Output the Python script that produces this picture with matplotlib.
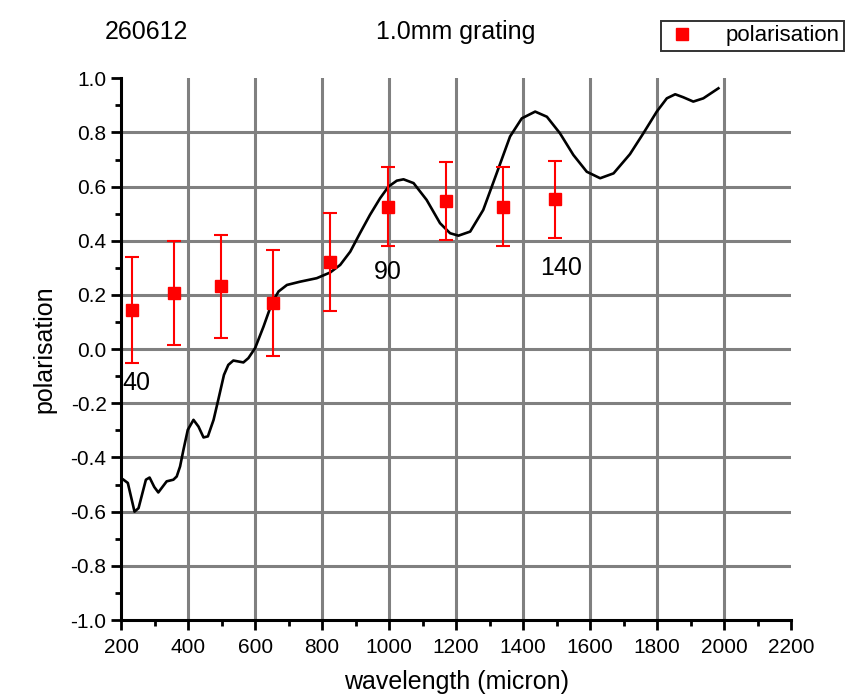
import matplotlib.pyplot as plt
from matplotlib.ticker import MultipleLocator

plt.rcParams['font.family'] = ['Liberation Sans', 'DejaVu Sans']

# measured polarisation points
wl_pts = [233, 357, 498, 654, 824, 998, 1171, 1339, 1496]
pol_pts = [0.145, 0.207, 0.232, 0.170, 0.321, 0.526, 0.547, 0.526, 0.553]
pol_err = [0.195, 0.192, 0.190, 0.195, 0.180, 0.146, 0.143, 0.146, 0.141]

# simulated curve
wl_curve = [207, 220, 240, 252, 274, 285, 299, 311, 336, 356, 366, 376, 386,
            399, 416, 431, 446, 459, 476, 490, 507, 520, 535, 565, 580, 600,
            625, 650, 670, 695, 734, 784, 824, 854, 884, 913, 943, 973, 998,
            1023, 1043, 1073, 1112, 1152, 1182, 1207, 1242, 1281, 1321, 1361,
            1396, 1436, 1471, 1510, 1550, 1590, 1630, 1670, 1719, 1759, 1799,
            1829, 1854, 1878, 1908, 1938, 1983]
pol_curve = [-0.482, -0.494, -0.600, -0.587, -0.482, -0.474, -0.509, -0.529,
             -0.488, -0.482, -0.470, -0.433, -0.372, -0.298, -0.261, -0.286,
             -0.326, -0.322, -0.261, -0.187, -0.095, -0.058, -0.042, -0.049,
             -0.033, 0.004, 0.083, 0.170, 0.213, 0.237, 0.249, 0.262, 0.283,
             0.311, 0.360, 0.428, 0.496, 0.557, 0.600, 0.622, 0.627, 0.613,
             0.551, 0.465, 0.428, 0.419, 0.434, 0.514, 0.649, 0.785, 0.852,
             0.877, 0.858, 0.797, 0.717, 0.655, 0.631, 0.649, 0.720, 0.797,
             0.877, 0.926, 0.941, 0.930, 0.914, 0.926, 0.963]

# labels next to some points
ann_text = ['40', '90', '140']
ann_x = [205, 955, 1450]
ann_y = [-0.125, 0.285, 0.30]

fig = plt.figure(figsize=(8.47, 6.99), dpi=100)
ax = fig.add_axes([0.143, 0.113, 0.791, 0.775])

ax.set_xlim(200, 2200)
ax.set_ylim(-1.0, 1.0)
ax.xaxis.set_major_locator(MultipleLocator(200))
ax.xaxis.set_minor_locator(MultipleLocator(100))
ax.yaxis.set_major_locator(MultipleLocator(0.2))
ax.yaxis.set_minor_locator(MultipleLocator(0.1))

for x in range(400, 2200, 200):
    ax.axvline(x, color='#808080', lw=2.2, zorder=0)
for i in range(-4, 5):
    ax.axhline(i * 0.2, color='#808080', lw=2.2, zorder=0)

ax.plot(wl_curve, pol_curve, color='black', lw=1.9, zorder=2)
ax.errorbar(wl_pts, pol_pts, yerr=pol_err, fmt='s', color='red', ms=9,
            ecolor='red', elinewidth=1.5, capsize=5, capthick=1.5, zorder=3,
            label='polarisation')

for t, x, y in zip(ann_text, ann_x, ann_y):
    ax.text(x, y, t, fontsize=18, ha='left', va='center')

for s in ['top', 'right']:
    ax.spines[s].set_visible(False)
for s in ['left', 'bottom']:
    ax.spines[s].set_linewidth(2.2)

ax.tick_params(which='major', direction='out', length=7, width=2, labelsize=15)
ax.tick_params(axis='x', which='major', pad=6)
ax.tick_params(which='minor', direction='out', length=4, width=2)
ax.set_yticks(ax.get_yticks())
ax.set_yticklabels([f'{v:.1f}' for v in ax.get_yticks()])
ax.set_ylim(-1.0, 1.0)

ax.set_xlabel('wavelength (micron)', fontsize=18, labelpad=9)
ax.set_ylabel('polarisation', fontsize=18, labelpad=10)

fig.text(0.124, 0.972, '260612', fontsize=18, ha='left', va='top')
fig.text(0.538, 0.972, '1.0mm grating', fontsize=18, ha='center', va='top')

h, l = ax.get_legend_handles_labels()
leg = fig.legend([h[0][0]], l, loc='upper left', bbox_to_anchor=(0.780, 0.970),
                 fontsize=16, frameon=True, fancybox=False, edgecolor='black',
                 handlelength=1.5, borderpad=0.2, handletextpad=1.2,
                 borderaxespad=0)
leg.get_frame().set_linewidth(1.4)

fig.savefig('out.png', dpi=100)
